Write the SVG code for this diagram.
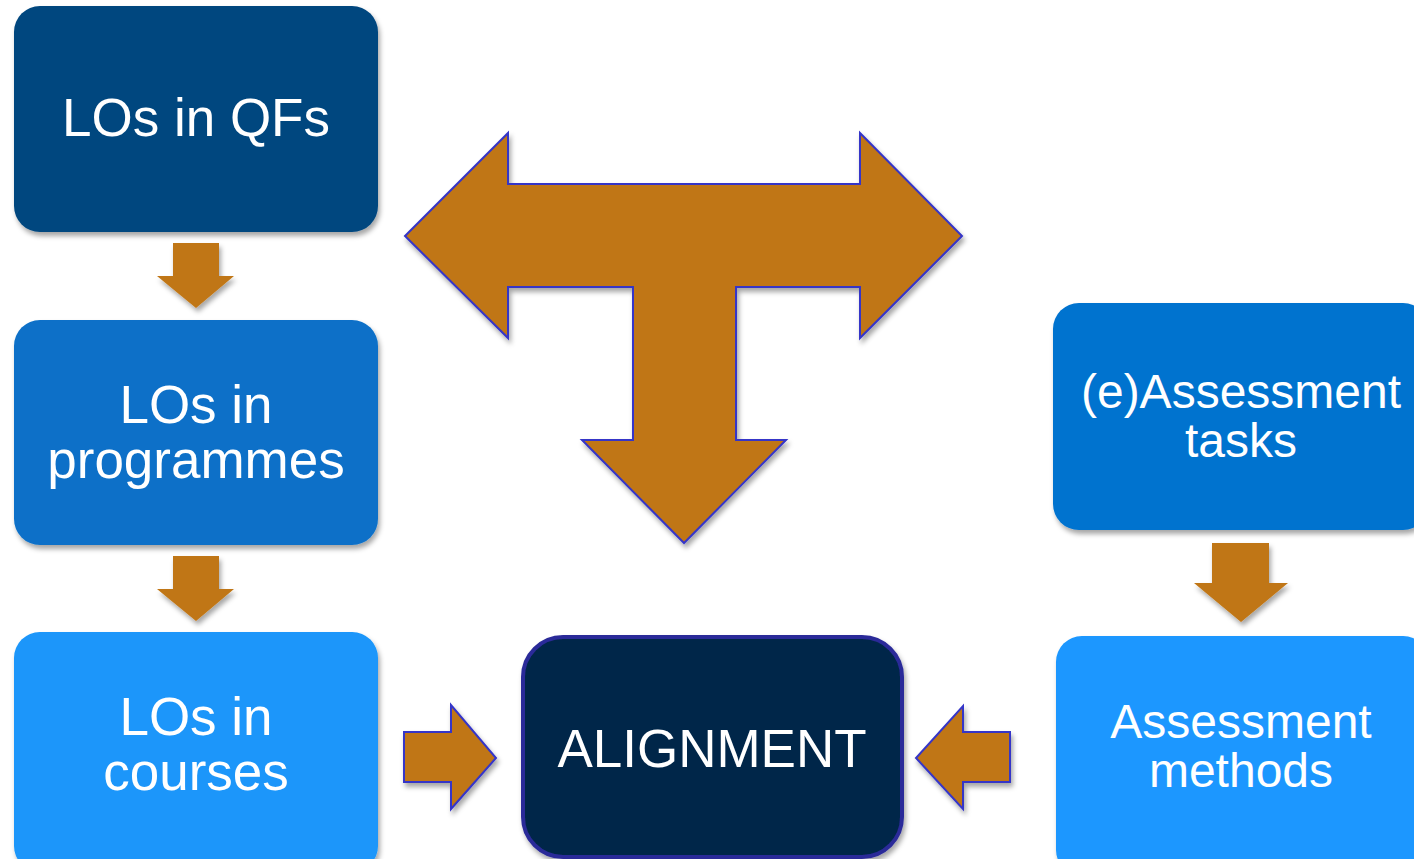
<svg xmlns="http://www.w3.org/2000/svg" width="1414" height="859" viewBox="0 0 1414 859">
<style>
.box{filter:url(#sh)}
.t{font-family:"Liberation Sans",Arial,sans-serif;fill:#fff;text-anchor:middle}
.big{font-size:53px}
.sm{font-size:48px}
.arr{fill:#C07614;filter:url(#sh)}
.arrs{fill:#C07614;stroke:#3535C8;stroke-width:2;stroke-linejoin:miter;filter:url(#sh)}
</style>
<defs>
<filter id="sh" x="-10%" y="-10%" width="130%" height="130%">
<feDropShadow dx="2" dy="4" stdDeviation="2.5" flood-color="#000" flood-opacity="0.35"/>
</filter>
</defs>
<rect width="1414" height="859" fill="#fff"/>
<g id="node-qfs">
<rect class="box" x="14" y="6" width="364" height="226" rx="26" fill="#03477F"/>
<text class="t big" x="196" y="136">LOs in QFs</text>
</g>
<g id="node-programmes">
<rect class="box" x="14" y="320" width="364" height="225" rx="26" fill="#0A70C8"/>
<text class="t big" x="196" y="423">LOs in</text>
<text class="t big" x="196" y="478">programmes</text>
</g>
<g id="node-courses">
<rect class="box" x="14" y="632" width="364" height="240" rx="26" fill="#1A96FA"/>
<text class="t big" x="196" y="735">LOs in</text>
<text class="t big" x="196" y="790">courses</text>
</g>
<g id="node-alignment">
<rect class="box" x="523" y="637" width="379" height="220" rx="40" fill="#03264A" stroke="#2B2B99" stroke-width="4"/>
<text class="t big" x="712" y="767">ALIGNMENT</text>
</g>
<g id="node-tasks">
<rect class="box" x="1053" y="303" width="376" height="227" rx="26" fill="#0073CF"/>
<text class="t sm" x="1241" y="408">(e)Assessment</text>
<text class="t sm" x="1241" y="457">tasks</text>
</g>
<g id="node-methods">
<rect class="box" x="1056" y="636" width="373" height="240" rx="26" fill="#1A97FF"/>
<text class="t sm" x="1241" y="738">Assessment</text>
<text class="t sm" x="1241" y="787">methods</text>
</g>
<g id="connectors">
<polygon class="arr" points="173,243 219,243 219,276 234,276 196,308 157,276 173,276"/>
<polygon class="arr" points="173,556 219,556 219,589 234,589 196,621 157,589 173,589"/>
<polygon class="arr" points="1212,543 1269,543 1269,583 1288,583 1241,622 1194,583 1212,583"/>
<polygon class="arrs" points="404,732 451,732 451,705 496,758 451,809 451,782 404,782"/>
<polygon class="arrs" points="1010,732 963,732 963,706 916,758 963,809 963,782 1010,782"/>
<polygon class="arrs" points="405,236 508,133 508,184 860,184 860,133 962,236 860,338 860,287 736,287 736,440 786,440 684,543 582,440 633,440 633,287 508,287 508,338"/>
</g>
</svg>
